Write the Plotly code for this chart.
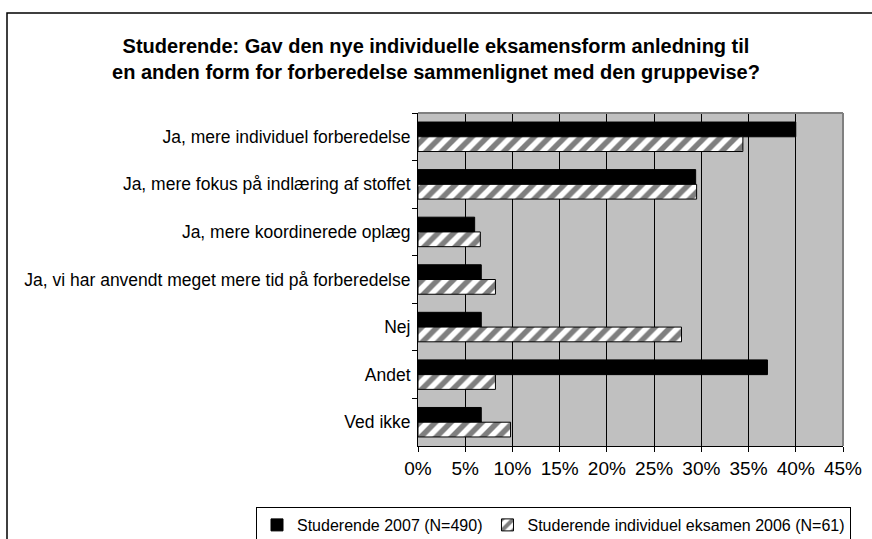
import plotly.graph_objects as go

# Answer categories (top to bottom)
categories = [
    "Ja, mere individuel forberedelse",
    "Ja, mere fokus på indlæring af stoffet",
    "Ja, mere koordinerede oplæg",
    "Ja, vi har anvendt meget mere tid på forberedelse",
    "Nej",
    "Andet",
    "Ved ikke",
]

# Share of respondents in percent
studerende_2007 = [40.0, 29.4, 6.0, 6.7, 6.7, 37.0, 6.7]
studerende_2006 = [34.4, 29.5, 6.6, 8.2, 27.9, 8.2, 9.8]

series_names = [
    "Studerende 2007 (N=490)",
    "Studerende individuel eksamen 2006 (N=61)",
]

x_ticks = [0, 5, 10, 15, 20, 25, 30, 35, 40, 45]
x_tick_labels = [f"{v}%" for v in x_ticks]

FONT = "Liberation Sans, Arial, sans-serif"

fig = go.Figure()
fig.add_trace(go.Bar(
    y=categories, x=studerende_2007, orientation="h", name=series_names[0],
    marker=dict(color="black", line=dict(color="black", width=1)),
))
fig.add_trace(go.Bar(
    y=categories, x=studerende_2006, orientation="h", name=series_names[1],
    marker=dict(
        color="white",
        line=dict(color="black", width=1),
        pattern=dict(shape="/", fgcolor="black", bgcolor="white", size=11, solidity=0.5),
    ),
))

W, H = 872, 539
L, R, T, B = 418, 29, 113, 93
pw, ph = W - L - R, H - T - B


def px_x(x):
    return (x - L) / pw


def px_y(y):
    return (H - B - y) / ph


fig.update_layout(
    width=W, height=H,
    margin=dict(l=L, r=R, t=T, b=B, autoexpand=False),
    paper_bgcolor="white",
    plot_bgcolor="#C0C0C0",
    barmode="group",
    bargap=0.38,
    bargroupgap=0,
    font=dict(family=FONT, size=16, color="black"),
    title=dict(
        text="<b>Studerende: Gav den nye individuelle eksamensform anledning til<br>"
             "en anden form for forberedelse sammenlignet med den gruppevise?</b>",
        x=0.5, xref="container", xanchor="center",
        y=1 - 53 / H, yanchor="middle",
        font=dict(family=FONT, size=20, color="black"),
    ),
    xaxis=dict(
        range=[0, 45], tickmode="array", tickvals=x_ticks, ticktext=x_tick_labels,
        showgrid=True, gridcolor="black", gridwidth=1,
        showline=True, linecolor="black", linewidth=1,
        ticks="outside", ticklen=5, tickcolor="black",
        tickfont=dict(size=19), zeroline=False,
    ),
    yaxis=dict(
        type="category", autorange="reversed",
        tickson="boundaries", ticks="outside", ticklen=5, tickcolor="black",
        showline=True, linecolor="black", linewidth=1,
        showgrid=False, tickfont=dict(size=17.5), ticklabelstandoff=3,
    ),
    legend=dict(
        orientation="h", x=px_x(256), xanchor="left", y=px_y(507), yanchor="top",
        bordercolor="black", borderwidth=1, bgcolor="white",
        font=dict(size=16), traceorder="normal",
        itemwidth=30,
    ),
    shapes=[
        # plot area border (top and right edges)
        dict(type="line", xref="paper", yref="paper", x0=0, x1=1, y0=1, y1=1,
             line=dict(color="#808080", width=2), layer="above"),
        dict(type="line", xref="paper", yref="paper", x0=1, x1=1, y0=0, y1=1,
             line=dict(color="#808080", width=2), layer="above"),
        # chart frame
        dict(type="rect", xref="paper", yref="paper",
             x0=px_x(7), x1=px_x(W + 20), y0=px_y(H + 20), y1=px_y(13),
             line=dict(color="black", width=1.5), fillcolor="rgba(0,0,0,0)", layer="below"),
    ],
)

fig.write_html("out.html")
